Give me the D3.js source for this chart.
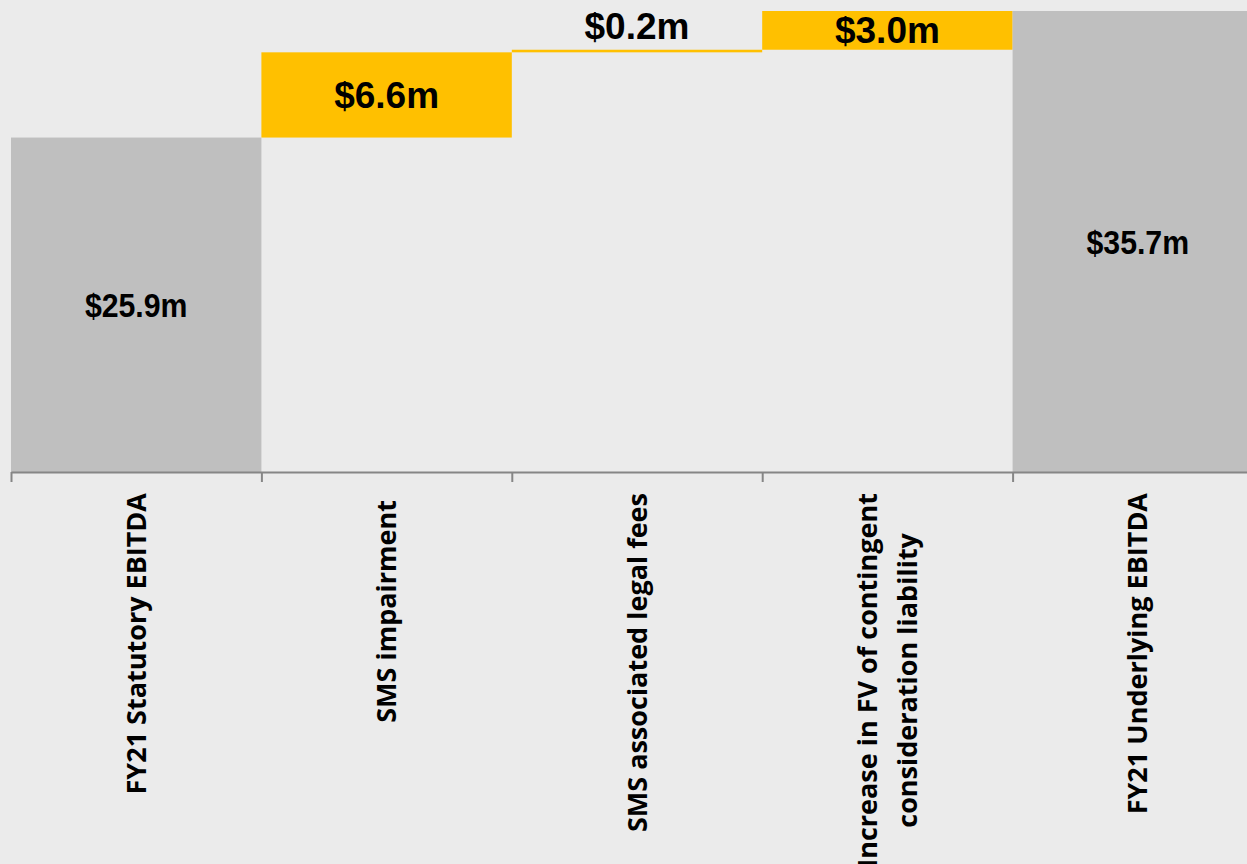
<!DOCTYPE html>
<html>
<head>
<meta charset="utf-8">
<script src="https://cdn.jsdelivr.net/npm/d3@7"></script>
<style>
  html, body { margin: 0; padding: 0; background: #ebebeb; }
  svg { display: block; }
</style>
</head>
<body>
<svg id="chart"></svg>
<script>
// waterfall data
var categories = [
	["FY21 Statutory EBITDA"],
	["SMS impairment "],
	["SMS associated legal fees"],
	["Increase in FV of contingent", "consideration liability"],
	["FY21 Underlying EBITDA"]
];
var values = [25.9, 6.6, 0.2, 3.0, 35.7];
var kinds = ["total", "step", "step", "step", "total"];
var valueLabels = ["$25.9m", "$6.6m", "$0.2m", "$3.0m", "$35.7m"];

var w = 1247;
var h = 864;
var plotLeft = 11;
var plotBase = 472;
var plotTop = 11;
var bandW = 250.4;

var svg = d3.select("#chart").attr("width", w).attr("height", h);

svg.append("rect")
	.attr("width", w).attr("height", h)
	.attr("fill", "#ebebeb");

// build bar extents (running total)
var bars = [];
var running = 0;
for (var i = 0; i < values.length; i++) {
	var b = {};
	b.i = i;
	b.kind = kinds[i];
	b.label = valueLabels[i];
	if (kinds[i] == "total") {
		b.y0 = 0;
		b.y1 = values[i];
		running = values[i];
	} else {
		b.y0 = running;
		b.y1 = running + values[i];
		running = b.y1;
	}
	bars.push(b);
}

var x = d3.scaleBand()
	.domain(d3.range(categories.length))
	.range([plotLeft, plotLeft + bandW * categories.length])
	.padding(0);

var y = d3.scaleLinear()
	.domain([0, d3.max(values)])
	.range([plotBase, plotTop]);

// boundary scale for tick marks between categories
var xEdge = d3.scaleLinear()
	.domain([0, categories.length])
	.range([plotLeft, plotLeft + bandW * categories.length]);

svg.append("g")
	.selectAll("rect")
	.data(bars)
	.enter()
	.append("rect")
	.attr("x", function(d) { return x(d.i); })
	.attr("width", x.bandwidth())
	.attr("y", function(d) { return y(d.y1); })
	.attr("height", function(d) { return Math.max(1.5, y(d.y0) - y(d.y1)); })
	.attr("fill", function(d) { return d.kind == "total" ? "#bfbfbf" : "#ffc000"; });

// axis
var axis = svg.append("g")
	.attr("transform", "translate(0," + plotBase + ")")
	.call(d3.axisBottom(xEdge)
		.tickValues(d3.range(categories.length + 1))
		.tickFormat("")
		.tickSize(10)
		.tickSizeOuter(0));
axis.select(".domain").attr("stroke", "#868686").attr("stroke-width", 2);
axis.selectAll(".tick line").attr("stroke", "#868686").attr("stroke-width", 2);

// value labels - totals use a narrowed face
svg.append("g")
	.selectAll("text")
	.data(bars)
	.enter()
	.append("text")
	.attr("text-anchor", "middle")
	.attr("transform", function(d) {
		var cx = x(d.i) + x.bandwidth() / 2;
		var hgt = y(d.y0) - y(d.y1);
		var cy;
		if (hgt < 20) cy = y(d.y1) - 11;
		else cy = (y(d.y0) + y(d.y1)) / 2 + (d.kind == "total" ? 12 : 13);
		var sx = d.kind == "total" ? 0.89 : 1;
		return "translate(" + cx + "," + cy + ") scale(" + sx + ",1)";
	})
	.style("font-family", "'Liberation Sans', Arial, sans-serif")
	.style("font-weight", "bold")
	.style("font-size", function(d) { return d.kind == "total" ? "34px" : "37px"; })
	.attr("fill", "#000")
	.text(function(d) { return d.label; });

// category labels, rotated
var labelTop = 493;
var lh = 40;
var catG = svg.append("g")
	.selectAll("g")
	.data(categories)
	.enter()
	.append("g")
	.attr("transform", function(d, i) {
		return "translate(" + (x(i) + x.bandwidth() / 2) + "," + labelTop + ") rotate(-90)";
	});

catG.each(function(lines) {
	var g = d3.select(this);
	var texts = [];
	for (var j = 0; j < lines.length; j++) {
		var t = g.append("text")
			.attr("text-anchor", "middle")
			.attr("y", (j - (lines.length - 1) / 2) * lh + 9.5)
			.style("font-family", "'Open Sans', sans-serif")
			.style("font-weight", "bold")
			.style("font-size", "27px")
			.style("white-space", "pre")
			.attr("fill", "#000")
			.text(lines[j]);
		texts.push(t);
	}
	var maxLen = d3.max(texts, function(t) { return t.node().getComputedTextLength(); });
	texts.forEach(function(t) { t.attr("x", -maxLen / 2); });
});
</script>
</body>
</html>
